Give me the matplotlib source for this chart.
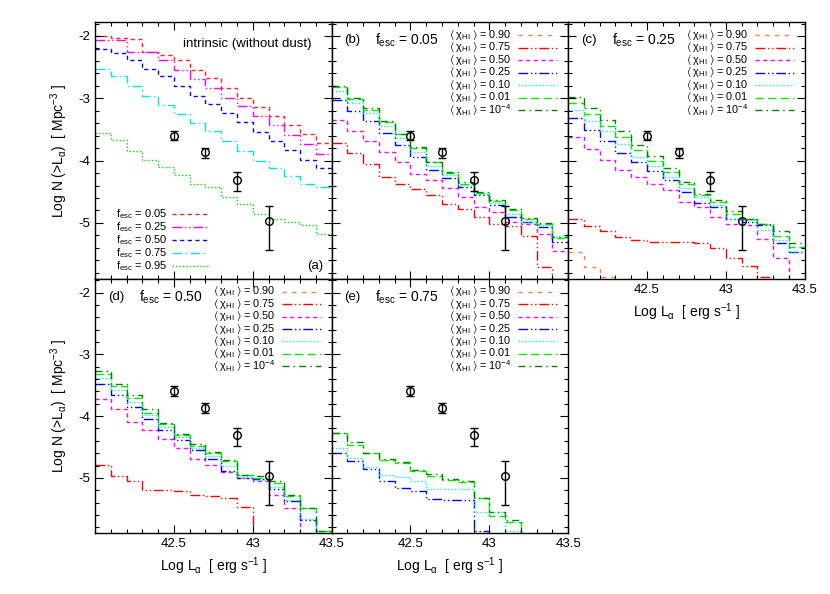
import numpy as np
import matplotlib
matplotlib.use("Agg")
from matplotlib import pyplot as plt

plt.rcParams['font.family'] = ['Liberation Sans', 'DejaVu Sans']
plt.rcParams['mathtext.fontset'] = 'custom'
plt.rcParams['mathtext.rm'] = 'Liberation Sans'
plt.rcParams['mathtext.it'] = 'Liberation Sans'
plt.rcParams['mathtext.bf'] = 'Liberation Sans:bold'
plt.rcParams['mathtext.fallback'] = 'stixsans'

# bin edges of the cumulative luminosity functions, Log L_alpha
edges = [42.0, 42.1, 42.2, 42.3, 42.4, 42.5, 42.6, 42.7, 42.8, 42.9,
         43.0, 43.1, 43.2, 43.3, 43.4, 43.5]
OFF = -7.0  # below the plotted range

# observed points
obs_x = [42.5, 42.7, 42.9, 43.1]
obs_y = [-3.60, -3.865, -4.31, -4.965]
obs_lo = [0.07, 0.09, 0.18, 0.47]
obs_hi = [0.08, 0.075, 0.12, 0.24]

# panel (a): intrinsic, one curve per f_esc
a_f005 = [-2.00, -2.04, -2.05, -2.26, -2.30, -2.39, -2.55, -2.68, -2.84, -2.99, -3.14, -3.28, -3.43, -3.57, -3.72]
a_f025 = [-2.06, -2.06, -2.25, -2.25, -2.39, -2.55, -2.69, -2.84, -2.99, -3.13, -3.28, -3.43, -3.59, -3.73, -3.89]
a_f050 = [-2.21, -2.27, -2.38, -2.53, -2.65, -2.80, -2.96, -3.09, -3.24, -3.38, -3.54, -3.68, -3.83, -3.99, -4.12]
a_f075 = [-2.53, -2.65, -2.81, -2.96, -3.10, -3.25, -3.39, -3.53, -3.68, -3.84, -4.00, -4.12, -4.25, -4.38, -4.43]
a_f095 = [-3.56, -3.67, -3.85, -3.99, -4.10, -4.23, -4.38, -4.43, -4.58, -4.70, -4.85, -4.94, -4.99, -5.04, -5.17]

# panel (b): f_esc = 0.05
b_x090 = None
b_x075 = [-3.72, -3.88, -4.06, -4.26, -4.38, -4.46, -4.55, -4.70, -4.77, -4.90, -5.01, -5.05, -5.21, -5.70, OFF]
b_x050 = [-3.35, -3.52, -3.68, -3.86, -4.02, -4.21, -4.31, -4.44, -4.59, -4.74, -4.82, -4.98, -5.02, -5.17, -5.45]
b_x025 = [-3.02, -3.21, -3.37, -3.56, -3.75, -3.94, -4.15, -4.28, -4.42, -4.55, -4.71, -4.90, -4.98, -5.06, -5.30]
b_x010 = [-2.89, -3.08, -3.24, -3.45, -3.64, -3.86, -4.09, -4.23, -4.39, -4.53, -4.68, -4.85, -4.98, -5.04, -5.21]
b_x001 = [-2.82, -3.01, -3.18, -3.38, -3.58, -3.79, -4.03, -4.20, -4.37, -4.52, -4.65, -4.80, -4.94, -5.02, -5.24]
b_x1e4 = [-2.80, -2.99, -3.16, -3.36, -3.57, -3.78, -4.02, -4.18, -4.35, -4.50, -4.63, -4.78, -4.92, -5.00, -5.22]

# panel (c): f_esc = 0.25
c_x090 = [-5.46, -5.70, -5.86, OFF, OFF, OFF, OFF, OFF, OFF, OFF, OFF, OFF, OFF, OFF, OFF]
c_x075 = [-4.93, -5.05, -5.13, -5.22, -5.28, -5.31, -5.31, -5.31, -5.33, -5.40, -5.57, -5.69, -5.87, OFF, OFF]
c_x050 = [-3.62, -3.82, -3.99, -4.15, -4.26, -4.38, -4.47, -4.66, -4.74, -4.90, -5.02, -5.03, -5.26, -5.57, -5.92]
c_x025 = [-3.32, -3.51, -3.69, -3.87, -4.03, -4.17, -4.31, -4.50, -4.68, -4.74, -4.94, -4.98, -5.03, -5.32, -5.46]
c_x010 = [-3.19, -3.36, -3.53, -3.73, -3.95, -4.08, -4.26, -4.44, -4.58, -4.71, -4.93, -4.95, -5.11, -5.28, -5.46]
c_x001 = [-3.07, -3.25, -3.44, -3.62, -3.83, -4.00, -4.19, -4.38, -4.55, -4.66, -4.85, -4.94, -5.02, -5.21, -5.38]
c_x1e4 = [-2.98, -3.16, -3.35, -3.53, -3.75, -3.92, -4.12, -4.34, -4.53, -4.63, -4.81, -4.93, -5.02, -5.13, -5.32]

# panel (d): f_esc = 0.50
d_x090 = None
d_x075 = [-4.79, -4.97, -5.05, -5.20, -5.20, -5.22, -5.27, -5.29, -5.32, -5.47, OFF, OFF, OFF, OFF, OFF]
d_x050 = [-3.73, -3.89, -4.09, -4.23, -4.37, -4.52, -4.70, -4.79, -4.91, -5.00, -5.05, -5.27, -5.48, OFF, OFF]
d_x025 = [-3.48, -3.66, -3.86, -4.05, -4.23, -4.38, -4.55, -4.70, -4.89, -5.00, -5.02, -5.18, -5.38, -5.68, OFF]
d_x010 = [-3.39, -3.58, -3.77, -3.98, -4.17, -4.34, -4.52, -4.64, -4.81, -4.99, -5.03, -5.15, -5.35, -5.67, OFF]
d_x001 = [-3.32, -3.52, -3.71, -3.95, -4.13, -4.31, -4.48, -4.60, -4.73, -4.96, -5.00, -5.09, -5.29, -5.48, -5.86]
d_x1e4 = [-3.27, -3.48, -3.66, -3.88, -4.11, -4.29, -4.45, -4.58, -4.71, -4.95, -4.97, -5.05, -5.27, -5.48, -5.86]

# panel (e): f_esc = 0.75
e_x090 = None
e_x075 = None
e_x050 = None
e_x025 = [-4.60, -4.73, -4.86, -5.05, -5.16, -5.22, -5.34, -5.35, -5.35, -5.86, OFF, OFF, OFF, OFF, OFF]
e_x010 = [-4.52, -4.68, -4.83, -4.96, -4.99, -5.05, -5.18, -5.18, -5.18, -5.56, -5.56, -5.86, OFF, OFF, OFF]
e_x001 = [-4.27, -4.47, -4.60, -4.71, -4.76, -4.89, -4.97, -5.03, -5.07, -5.32, -5.62, -5.72, OFF, OFF, OFF]
e_x1e4 = [-4.27, -4.42, -4.59, -4.70, -4.75, -4.88, -4.94, -5.02, -5.05, -5.32, -5.56, -5.68, OFF, OFF, OFF]

a_labels = ['0.05', '0.25', '0.50', '0.75', '0.95']
x_labels = ['0.90', '0.75', '0.50', '0.25', '0.10', '0.01', '10$^{-4}$']

a_styles = [
    ('#ff2020', (0, (3, 2.5))),
    ('#ff00ff', (0, (7, 2, 1, 2, 1, 2))),
    ('#0000ff', (0, (3, 2.5))),
    ('#00e5ee', (0, (7, 2.5, 1, 2.5))),
    ('#00dd00', (0, (1, 1.5))),
]
x_styles = [
    ('#ff7f40', (0, (3, 4))),
    ('#ff0000', (0, (7, 2, 1, 2, 1, 2))),
    ('#ff00ff', (0, (3, 2.5))),
    ('#0000ff', (0, (7, 2, 1, 2, 1, 2))),
    ('#00f0ff', (0, (1, 1.5))),
    ('#00ee00', (0, (6, 3))),
    ('#008000', (0, (5, 3, 1, 3))),
]

fig = plt.figure(figsize=(8.3, 5.94), dpi=100)
L, W = 0.1145, 0.2850
top_b, top_h = 0.5303, 0.4322
bot_b, bot_h = 0.1019, 0.4284
ax_a = fig.add_axes([L, top_b, W, top_h])
ax_b = fig.add_axes([L + W, top_b, W, top_h])
ax_c = fig.add_axes([L + 2 * W, top_b, W, top_h])
ax_d = fig.add_axes([L, bot_b, W, bot_h])
ax_e = fig.add_axes([L + W, bot_b, W, bot_h])


def setup(ax, xlab, ylab):
    ax.set_xlim(42.0, 43.5)
    ax.set_ylim(-5.9, -1.78)
    ax.set_xticks([42.5, 43.0, 43.5])
    ax.set_xticks(np.arange(42.0, 43.51, 0.1), minor=True)
    ax.set_yticks([-5, -4, -3, -2])
    ax.set_yticks(np.arange(-5.8, -1.79, 0.2), minor=True)
    ax.tick_params(which='both', direction='in', top=True, right=True, width=0.8)
    ax.tick_params(which='major', length=6, labelsize=9.5)
    ax.tick_params(which='minor', length=3)
    if xlab:
        ax.set_xticklabels(['42.5', '43', '43.5'])
        ax.set_xlabel(r'Log L$_\alpha$  [ erg s$^{-1}$ ]', fontsize=10, labelpad=4)
    else:
        ax.set_xticklabels([])
    if ylab:
        ax.set_yticklabels(['-5', '-4', '-3', '-2'])
        ax.set_ylabel(r'Log N (>L$_\alpha$)  [ Mpc$^{-3}$ ]', fontsize=10, labelpad=6)
    else:
        ax.set_yticklabels([])
    for s in ax.spines.values():
        s.set_linewidth(1.0)


def draw_obs(ax):
    ax.errorbar(obs_x, obs_y, yerr=[obs_lo, obs_hi], fmt='o', ms=5.5, mfc='none',
                mec='k', mew=1.0, ecolor='k', elinewidth=1.0, capsize=3, zorder=5)


def draw_curves(ax, series, styles):
    for vals, (col, ls) in zip(series, styles):
        if vals is not None:
            ax.stairs(vals, edges, baseline=None, color=col, ls=ls, lw=1.0)


def key(ax, labels, styles, x_text, x0, x1, y0, dy, ha, size):
    # hand-made key so that rows sit as tight as in the original
    for i, (lab, (col, ls)) in enumerate(zip(labels, styles)):
        y = y0 - i * dy
        ax.text(x_text, y, lab, transform=ax.transAxes, ha=ha, va='center', fontsize=size)
        ax.plot([x0, x1], [y, y], transform=ax.transAxes, color=col, ls=ls, lw=1.0,
                clip_on=False)


# panel (a)
setup(ax_a, False, True)
draw_curves(ax_a, [a_f005, a_f025, a_f050, a_f075, a_f095], a_styles)
draw_obs(ax_a)
key(ax_a, [r'f$_{\rm esc}$ = ' + s for s in a_labels], a_styles,
    0.09, 0.324, 0.478, 0.253, 0.0505, 'left', 8.0)
ax_a.text(0.915, 0.915, 'intrinsic (without dust)', transform=ax_a.transAxes,
          ha='right', va='center', fontsize=9.5)
ax_a.text(0.965, 0.05, '(a)', transform=ax_a.transAxes, ha='right', va='center', fontsize=9.5)

x_texts = [r'$\langle\;\chi_{\rm HI}\;\rangle$ = ' + s for s in x_labels]

panels = [
    (ax_b, '(b)', '0.05', [b_x090, b_x075, b_x050, b_x025, b_x010, b_x001, b_x1e4], False, False),
    (ax_c, '(c)', '0.25', [c_x090, c_x075, c_x050, c_x025, c_x010, c_x001, c_x1e4], True, False),
    (ax_d, '(d)', '0.50', [d_x090, d_x075, d_x050, d_x025, d_x010, d_x001, d_x1e4], True, True),
    (ax_e, '(e)', '0.75', [e_x090, e_x075, e_x050, e_x025, e_x010, e_x001, e_x1e4], True, False),
]
for ax, tag, fesc, series, xlab, ylab in panels:
    setup(ax, xlab, ylab)
    draw_curves(ax, series, x_styles)
    draw_obs(ax)
    key(ax, x_texts, x_styles, 0.762, 0.79, 0.955, 0.95, 0.0487, 'right', 7.8)
    ax.text(0.055, 0.93, tag, transform=ax.transAxes, ha='left', va='center', fontsize=9.5)
    ax.text(0.185, 0.93, r'f$_{\rm esc}$ = ' + fesc, transform=ax.transAxes,
            ha='left', va='center', fontsize=10)

fig.savefig('out.png', dpi=100)
